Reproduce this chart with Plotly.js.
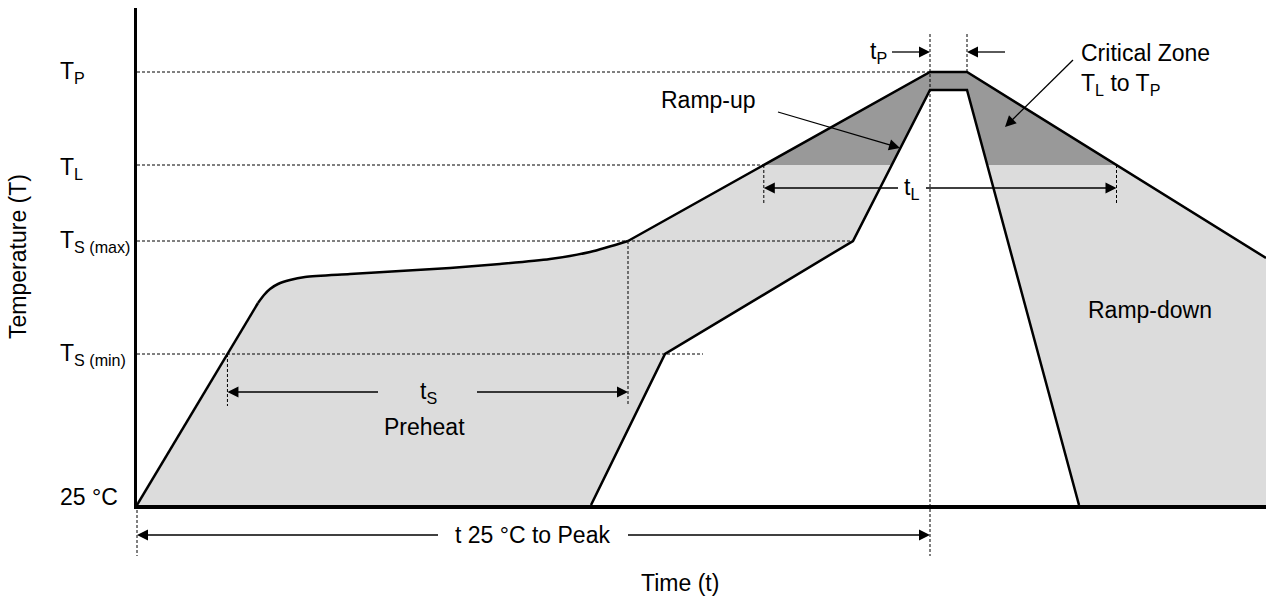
<!DOCTYPE html>
<html><head><meta charset="utf-8">
<script src="https://cdn.plot.ly/plotly-3.0.1.min.js"></script>
<style>html,body{margin:0;padding:0;background:#fff}#chart{width:1266px;height:604px}</style>
</head><body><div id="chart"></div>
<script>
// ---- schematic reflow profile (arbitrary time / temperature units) ----
const upperTime = [0, 121, 127, 133, 141, 153, 168, 213, 263, 313, 363, 413, 453, 491, 793, 830, 1129];
const upperTemp = [0, 202, 210, 216, 221, 225, 228, 231, 234, 237, 241, 246, 253, 264, 433, 433, 247];
const lowerTime = [454, 528, 716, 793, 830, 942];
const lowerTemp = [0, 151, 264, 415, 415, 0];

// temperature levels (y-axis labels)
const levelLabels = ['T<sub>P</sub>', 'T<sub>L</sub>', 'T<sub>S (max)</sub>', 'T<sub>S (min)</sub>', '25 °C'];
const levelTemps = [433, 340, 264, 151, 0];
const levelGuideEnds = [793, 627, 716, 566];

// labels
const spanLabels = ['t<sub>S</sub>', 't<sub>L</sub>', 't<sub>P</sub>'];
const zoneLabels = ['Preheat', 'Ramp-up', 'Critical Zone<br>T<sub>L</sub> to T<sub>P</sub>', 'Ramp-down'];
const xTitle = 'Time (t)';
const yTitle = 'Temperature (T)';
const peakSpanLabel = 't 25 °C to Peak';

const X_MAX = 1129, Y_MAX = 497;
const FONT = 'Arial, "Liberation Sans", sans-serif';
const FS = 23;

function crossTime(xs, ys, level, fromIdx) {
  for (let i = fromIdx || 0; i < xs.length - 1; i++) {
    const a = ys[i], b = ys[i + 1];
    if ((a - level) * (b - level) <= 0 && a !== b) {
      return xs[i] + (level - a) / (b - a) * (xs[i + 1] - xs[i]);
    }
  }
  return null;
}
const TP = levelTemps[0], TL = levelTemps[1], TSmax = levelTemps[2], TSmin = levelTemps[3];
const peakIdx = upperTemp.indexOf(TP);
const tsStart = crossTime(upperTime, upperTemp, TSmin);
const tsEnd = crossTime(upperTime, upperTemp, TSmax);
const tlStart = crossTime(upperTime, upperTemp, TL);
const tlEnd = crossTime(upperTime, upperTemp, TL, peakIdx + 1);
const tpStart = upperTime[peakIdx];
const tpEnd = upperTime[peakIdx + 1];

// full band polygon between the two profiles
const bandX = upperTime.concat([upperTime[upperTime.length - 1]], lowerTime.slice().reverse());
const bandY = upperTemp.concat([0], lowerTemp.slice().reverse());

function clipAbove(xs, ys, level) {
  const ox = [], oy = [];
  const n = xs.length;
  for (let i = 0; i < n; i++) {
    const j = (i + 1) % n;
    const ax = xs[i], ay = ys[i], bx = xs[j], by = ys[j];
    const ain = ay >= level, bin = by >= level;
    if (ain) { ox.push(ax); oy.push(ay); }
    if (ain !== bin) { const t = (level - ay) / (by - ay); ox.push(ax + t * (bx - ax)); oy.push(level); }
  }
  return [ox, oy];
}
const [critX, critY] = clipAbove(bandX, bandY, TL);

// upper profile split: straight rise, smooth soak curve, straight ramp/peak/cool
const kneeIdx = 1, soakEndIdx = upperTemp.indexOf(TSmax);
const lineStyle = {color: '#000', width: 2.5};
const traces = [
  {x: bandX, y: bandY, type: 'scatter', mode: 'lines', fill: 'toself', fillcolor: '#dcdcdc',
   line: {width: 0, color: 'rgba(0,0,0,0)'}, hoverinfo: 'skip', showlegend: false},
  {x: critX, y: critY, type: 'scatter', mode: 'lines', fill: 'toself', fillcolor: '#999999',
   line: {width: 0, color: 'rgba(0,0,0,0)'}, hoverinfo: 'skip', showlegend: false},
  {x: upperTime.slice(0, kneeIdx + 1), y: upperTemp.slice(0, kneeIdx + 1), type: 'scatter', mode: 'lines',
   line: lineStyle, hoverinfo: 'skip', showlegend: false},
  {x: upperTime.slice(kneeIdx, soakEndIdx + 1), y: upperTemp.slice(kneeIdx, soakEndIdx + 1), type: 'scatter', mode: 'lines',
   line: {color: '#000', width: 2.5, shape: 'spline', smoothing: 0.8}, hoverinfo: 'skip', showlegend: false},
  {x: upperTime.slice(soakEndIdx), y: upperTemp.slice(soakEndIdx), type: 'scatter', mode: 'lines',
   line: lineStyle, hoverinfo: 'skip', showlegend: false},
  {x: lowerTime, y: lowerTemp, type: 'scatter', mode: 'lines', line: lineStyle,
   hoverinfo: 'skip', showlegend: false}
];

const dash = {color: '#000', width: 1, dash: '3px,2px'};
const shapes = [];
// horizontal guides
for (let i = 0; i < levelGuideEnds.length; i++) {
  shapes.push({type: 'line', xref: 'x', yref: 'y', x0: 0, x1: levelGuideEnds[i], y0: levelTemps[i], y1: levelTemps[i], line: dash});
}
// vertical guides
const tsRow = 113, tlRow = 317, tpRow = 453, peakRow = -30;
shapes.push({type: 'line', xref: 'x', yref: 'y', x0: tsStart, x1: tsStart, y0: TSmin, y1: tsRow - 14, line: dash});
shapes.push({type: 'line', xref: 'x', yref: 'y', x0: tsEnd, x1: tsEnd, y0: TSmax, y1: tsRow - 14, line: dash});
shapes.push({type: 'line', xref: 'x', yref: 'y', x0: tlStart, x1: tlStart, y0: TL, y1: tlRow - 15, line: dash});
shapes.push({type: 'line', xref: 'x', yref: 'y', x0: tlEnd, x1: tlEnd, y0: TL, y1: tlRow - 15, line: dash});
shapes.push({type: 'line', xref: 'x', yref: 'paper', x0: tpStart, x1: tpStart, y0: 471 / Y_MAX, y1: -51 / Y_MAX, line: dash});
shapes.push({type: 'line', xref: 'x', yref: 'y', x0: tpEnd, x1: tpEnd, y0: 471, y1: TP, line: dash});
shapes.push({type: 'line', xref: 'paper', yref: 'paper', x0: 0, x1: 0, y0: 0, y1: -51 / Y_MAX, line: dash});

// arrows: shaft line + filled triangular head (1 unit = 1 px on both axes)
function addArrow(hx, hy, tx, ty, yref) {
  const L = 11, W = 11;
  const dx = hx - tx, dy = hy - ty, len = Math.hypot(dx, dy);
  const ux = dx / len, uy = dy / len;
  const bx = hx - ux * L, by = hy - uy * L;
  const nx = -uy, ny = ux;
  const cy = v => yref === 'paper' ? v / Y_MAX : v;
  shapes.push({type: 'line', xref: 'x', yref: yref, x0: tx, y0: cy(ty), x1: bx + ux * 2, y1: cy(by + uy * 2),
    line: {color: '#000', width: 1.3}});
  const p = 'M' + hx + ',' + cy(hy) +
    'L' + (bx + nx * W / 2) + ',' + cy(by + ny * W / 2) +
    'L' + (bx - nx * W / 2) + ',' + cy(by - ny * W / 2) + 'Z';
  shapes.push({type: 'path', xref: 'x', yref: yref, path: p, fillcolor: '#000', line: {width: 0}});
}
addArrow(tsStart, tsRow, 241, tsRow, 'y');
addArrow(tsEnd, tsRow, 340, tsRow, 'y');
addArrow(tlStart, tlRow, 761, tlRow, 'y');
addArrow(tlEnd, tlRow, 789, tlRow, 'y');
addArrow(tpStart, tpRow, 755, tpRow, 'y');
addArrow(tpEnd, tpRow, 868, tpRow, 'y');
addArrow(763, 357, 641, 393, 'y');
addArrow(868, 378, 936, 445, 'y');
addArrow(0, peakRow, 301, peakRow, 'paper');
addArrow(tpStart, peakRow, 491, peakRow, 'paper');

const font = {family: FONT, size: FS, color: '#000'};
const ann = [];
function label(xref, yref, x, y, text, extra) {
  ann.push(Object.assign({xref: xref, yref: yref, x: x, y: y, text: text, showarrow: false,
    xanchor: 'center', yanchor: 'middle', font: font}, extra || {}));
}
// level labels
const levelShift = [0, -3, 0, 0, 8];
for (let i = 0; i < levelLabels.length; i++) {
  label('paper', 'y', -79 / X_MAX, levelTemps[i], levelLabels[i], {xanchor: 'left', yshift: levelShift[i]});
}
// span labels
label('x', 'y', 291, tsRow, spanLabels[0]);
label('x', 'y', 774, tlRow, spanLabels[1]);
label('x', 'y', 741, tpRow, spanLabels[2]);
// zone labels
label('x', 'y', 287, 78, zoneLabels[0]);
label('x', 'y', 571, 405, zoneLabels[1]);
label('x', 'y', 942, 436, zoneLabels[2], {xanchor: 'left', align: 'left'});
label('x', 'y', 1013, 195, zoneLabels[3]);
// below axis
label('x', 'paper', 395, peakRow / Y_MAX, peakSpanLabel);
label('paper', 'paper', (680 - 137) / X_MAX, -78 / Y_MAX, xTitle);

const layout = {
  width: 1266, height: 604,
  margin: {l: 137, r: 0, t: 8, b: 99, pad: 0},
  paper_bgcolor: '#fff', plot_bgcolor: '#fff',
  font: {family: FONT, size: FS, color: '#000'},
  showlegend: false,
  xaxis: {range: [0, X_MAX], showline: true, linewidth: 3.5, linecolor: '#000', showgrid: false,
    zeroline: false, showticklabels: false, ticks: '', fixedrange: true},
  yaxis: {range: [0, Y_MAX], showline: true, linewidth: 3.5, linecolor: '#000', showgrid: false,
    zeroline: false, showticklabels: false, ticks: '', fixedrange: true,
    title: {text: yTitle, font: {family: FONT, size: FS, color: '#000'}, standoff: 101}},
  shapes: shapes,
  annotations: ann
};
Plotly.newPlot('chart', traces, layout, {staticPlot: true, displayModeBar: false});
</script></body></html>
